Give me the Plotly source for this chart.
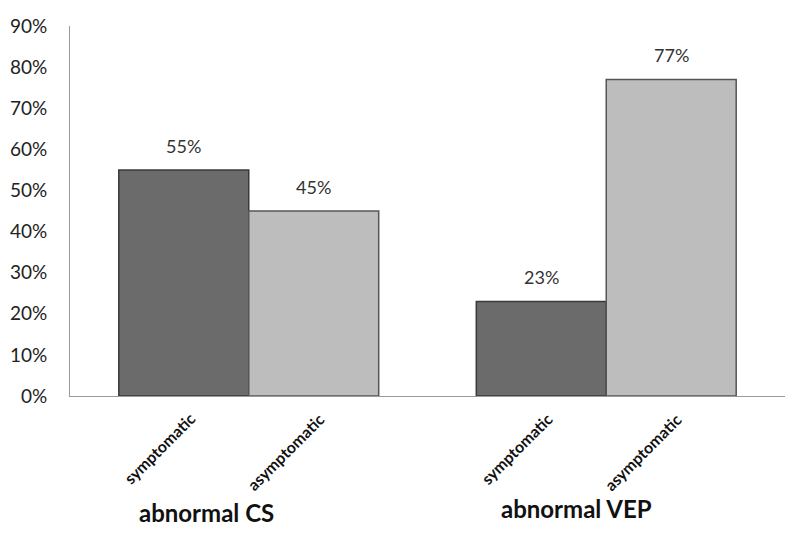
import plotly.graph_objects as go

groups = ["abnormal CS", "abnormal VEP"]
series = ["symptomatic", "asymptomatic"]
symptomatic = [0.55, 0.23]
asymptomatic = [0.45, 0.77]
y_ticks = [0, 0.1, 0.2, 0.3, 0.4, 0.5, 0.6, 0.7, 0.8, 0.9]

# page body has an 8px margin, so the figure is sized to fit the window
BODY = 8
W, H = 797 - BODY, 537 - BODY
ML, MR, MT, MB = 70 - BODY, 12, 26 - BODY, 141
BARGAP = 0.273
FONT = "Lato, Carlito, Calibri, sans-serif"

plot_w = W - ML - MR
cat_w = plot_w / len(groups)
bar_w = cat_w * (1 - BARGAP) / len(series)

fig = go.Figure()
fig.add_trace(go.Bar(
    x=groups, y=symptomatic, name="symptomatic",
    marker=dict(color="#6b6b6b", line=dict(color="#3a3a3a", width=1.5)),
))
fig.add_trace(go.Bar(
    x=groups, y=asymptomatic, name="asymptomatic",
    marker=dict(color="#bdbdbd", line=dict(color="#555555", width=1.5)),
))

annotations = []
for si, (sname, vals) in enumerate([("symptomatic", symptomatic), ("asymptomatic", asymptomatic)]):
    shift = (si - 0.5) * bar_w
    for g, v in zip(groups, vals):
        annotations.append(dict(
            x=g, y=v, xref="x", yref="y", xshift=shift, yshift=11,
            text=f"{round(v*100)}%", showarrow=False, yanchor="bottom",
            font=dict(family=FONT, size=18, color="#333333"),
        ))
        annotations.append(dict(
            x=g, y=0, xref="x", yref="y", xshift=shift + 17, yshift=-10,
            text=f"<b>{sname}</b>", showarrow=False, textangle=-45,
            xanchor="right", yanchor="top",
            font=dict(family=FONT, size=16, color="#111111"),
        ))

group_shift = {"abnormal CS": -42, "abnormal VEP": -30}
group_lift = {"abnormal CS": 0, "abnormal VEP": 4}
for g in groups:
    annotations.append(dict(
        x=g, xref="x", y=0, yref="paper", xshift=group_shift[g],
        yshift=-116 + group_lift[g],
        text=f"<b>{g}</b>", showarrow=False, yanchor="middle",
        font=dict(family=FONT, size=24, color="#111111"),
    ))

fig.update_layout(
    width=W, height=H,
    margin=dict(l=ML, r=MR, t=MT, b=MB, autoexpand=False),
    paper_bgcolor="white", plot_bgcolor="white",
    barmode="group", bargap=BARGAP, bargroupgap=0,
    showlegend=False,
    annotations=annotations,
    xaxis=dict(showticklabels=False, showline=True, linecolor="#999999",
               linewidth=1, ticks="", showgrid=False, zeroline=False,
               automargin=False),
    yaxis=dict(range=[0, 0.9], tickvals=y_ticks, tickformat=".0%",
               showline=True, linecolor="#999999", linewidth=1,
               showgrid=False, zeroline=False, ticks="",
               ticklabelstandoff=18, automargin=False,
               tickfont=dict(family=FONT, size=19, color="#222222")),
)

fig.write_html("out.html")
